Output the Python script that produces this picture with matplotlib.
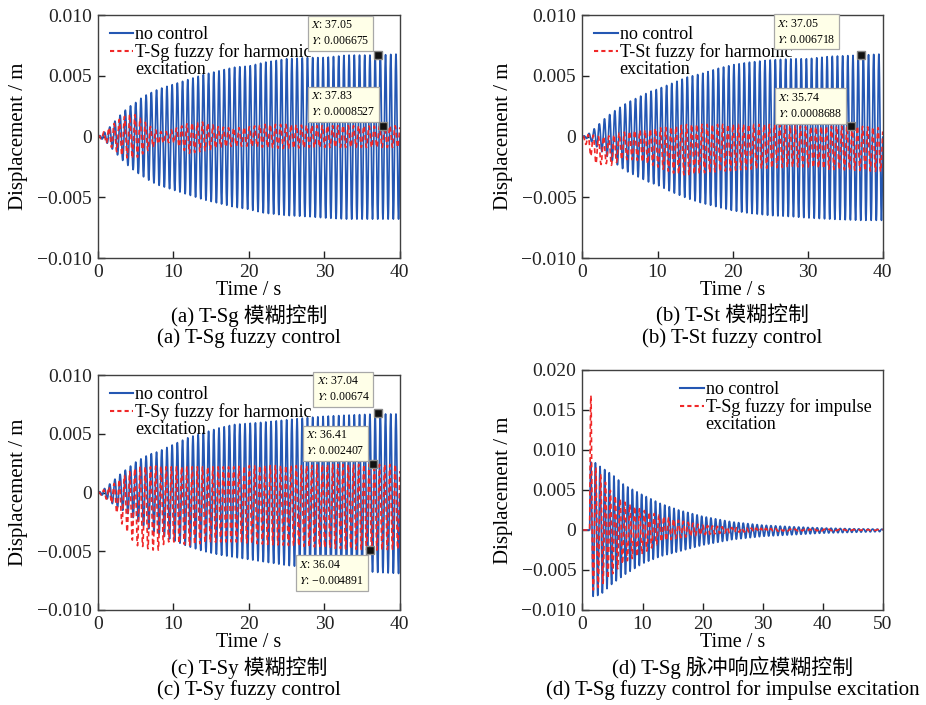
import numpy as np
import matplotlib
matplotlib.use('Agg')
import matplotlib.pyplot as plt
from matplotlib.lines import Line2D

plt.rcParams['font.family'] = ['Liberation Serif', 'Noto Sans CJK SC']
plt.rcParams['mathtext.fontset'] = 'stix'
plt.rcParams['axes.unicode_minus'] = True

# ---- data (displacement in units of 1e-3 m) ----
# harmonic excitation: envelope knots
t_harm = [0, 1, 2, 3, 4, 5, 6, 7, 8, 9, 10, 12, 14, 16, 18, 20, 22, 25, 28, 30, 33, 37, 40]
f_harm = 1.45  # Hz, counted cycles

a_blue_up = [0, 0.4, 1.1, 1.8, 2.4, 2.8, 3.3, 3.6, 3.9, 4.1, 4.3, 4.7, 5.1, 5.4, 5.7, 5.8, 6.1, 6.4, 6.5, 6.5, 6.7, 6.7, 6.8]
a_blue_lo = [0, -0.4, -1.1, -1.8, -2.4, -2.9, -3.3, -3.7, -4.0, -4.2, -4.4, -4.8, -5.2, -5.5, -5.8, -6.0, -6.3, -6.5, -6.6, -6.7, -6.8, -6.8, -6.8]
a_red_up = [0, 0.5, 1.0, 1.5, 1.8, 1.8, 1.3, 0.8, 0.4, 0.4, 0.6, 1.1, 1.2, 0.8, 0.7, 0.8, 1.0, 1.0, 0.9, 0.9, 0.9, 0.85, 0.9]
a_red_lo = [0, -0.5, -1.0, -1.5, -1.8, -1.8, -1.4, -1.0, -0.6, -0.5, -0.5, -1.4, -1.2, -0.9, -0.8, -0.8, -0.9, -1.0, -0.9, -0.9, -0.9, -0.9, -0.9]

b_blue_up = [0, 0.3, 0.9, 1.5, 2.0, 2.4, 2.8, 3.1, 3.4, 3.7, 3.9, 4.4, 4.9, 5.2, 5.6, 5.9, 6.1, 6.3, 6.4, 6.4, 6.6, 6.7, 6.8]
b_blue_lo = [0, -0.3, -0.9, -1.5, -2.0, -2.5, -2.9, -3.2, -3.5, -3.8, -4.0, -4.6, -5.1, -5.5, -5.8, -6.1, -6.3, -6.5, -6.6, -6.7, -6.8, -6.9, -6.9]
b_red_up = [0, 0.2, 0.0, 0.0, 0.1, 0.3, 0.4, 0.5, 0.5, 0.6, 0.7, 0.8, 1.0, 1.0, 1.0, 1.0, 1.0, 1.0, 0.9, 0.8, 0.85, 0.85, 0.7]
b_red_lo = [0, -1.5, -2.4, -2.2, -2.4, -1.9, -1.9, -1.9, -2.1, -2.3, -2.5, -3.0, -3.2, -3.0, -2.9, -2.8, -2.7, -2.6, -2.5, -2.5, -2.7, -2.8, -2.9]

c_blue_up = [0, 0.4, 1.0, 1.6, 2.1, 2.6, 3.0, 3.3, 3.5, 3.8, 4.1, 4.7, 5.1, 5.5, 5.8, 5.9, 6.0, 6.2, 6.4, 6.5, 6.6, 6.7, 6.7]
c_blue_lo = [0, -0.4, -1.0, -1.4, -1.8, -2.3, -2.8, -3.2, -3.5, -3.8, -4.1, -4.6, -5.0, -5.3, -5.5, -5.7, -5.9, -6.2, -6.4, -6.5, -6.6, -6.8, -6.9]
c_red_up = [0, 0.3, 0.7, 1.2, 1.7, 2.1, 2.2, 2.2, 2.3, 2.2, 2.2, 2.2, 2.2, 2.2, 2.2, 2.3, 2.3, 2.3, 2.3, 2.4, 2.4, 2.4, 2.4]
c_red_lo = [0, -0.5, -1.0, -2.5, -3.5, -4.5, -4.6, -4.9, -4.9, -4.2, -4.2, -4.5, -4.3, -4.2, -4.2, -4.3, -4.4, -4.5, -4.6, -4.7, -4.8, -4.9, -4.8]

# impulse excitation (starts at t = 1.2 s)
t_imp = [1.2, 1.45, 2, 3, 5, 7, 10, 13, 16, 20, 25, 30, 35, 40, 45, 50]
f_imp = 1.3
d_blue_up = [8.5, 8.5, 8.5, 7.9, 6.9, 5.6, 4.4, 3.3, 2.5, 1.7, 1.0, 0.6, 0.4, 0.25, 0.15, 0.1]
d_blue_lo = [-8.3, -8.3, -8.3, -8.1, -6.7, -5.6, -4.2, -3.3, -2.7, -1.9, -1.2, -0.8, -0.6, -0.4, -0.3, -0.2]
d_red_up = [16.8, 16.8, 8.0, 7.0, 4.5, 3.5, 2.5, 1.8, 1.2, 0.6, 0.3, 0.2, 0.1, 0.1, 0.05, 0.05]
d_red_lo = [-7.5, -7.5, -7.5, -7.0, -5.5, -4.0, -3.0, -1.5, -1.0, -0.6, -0.3, -0.2, -0.1, -0.1, -0.05, -0.05]

# data tips (x, y) as shown in the boxes
tips_a = [(37.05, 0.006675), (37.83, 0.0008527)]
tips_b = [(37.05, 0.006718), (35.74, 0.0008688)]
tips_c = [(37.04, 0.00674), (36.41, 0.002407), (36.04, -0.004891)]

yt_harm = [0.010, 0.005, 0, -0.005, -0.010]
yl_harm = ['0.010', '0.005', '0', '\u22120.005', '\u22120.010']
yt_imp = [0.020, 0.015, 0.010, 0.005, 0, -0.005, -0.010]
yl_imp = ['0.020', '0.015', '0.010', '0.005', '0', '\u22120.005', '\u22120.010']

captions = [
    ('(a) T-Sg 模糊控制', '(a) T-Sg fuzzy control'),
    ('(b) T-St 模糊控制', '(b) T-St fuzzy control'),
    ('(c) T-Sy 模糊控制', '(c) T-Sy fuzzy control'),
    ('(d) T-Sg 脉冲响应模糊控制', '(d) T-Sg fuzzy control for impulse excitation'),
]
red_labels = ['T-Sg fuzzy for harmonic', 'T-St fuzzy for harmonic',
              'T-Sy fuzzy for harmonic', 'T-Sg fuzzy for impulse']

BLUE = '#2457B3'
RED = '#F02828'


def harm_signal(t, knots, up, lo, f, phase=0.0):
    up_i = np.interp(t, knots, up) * 1e-3
    lo_i = np.interp(t, knots, lo) * 1e-3
    return (up_i + lo_i) / 2 + (up_i - lo_i) / 2 * np.sin(2 * np.pi * f * t + phase)


def imp_signal(t, knots, up, lo, f):
    tt = np.clip(t - knots[0], 0, None)
    up_i = np.interp(t, knots, up) * 1e-3
    lo_i = np.interp(t, knots, lo) * 1e-3
    s = np.sin(2 * np.pi * f * tt)
    y = np.where(s > 0, up_i * s, -lo_i * s)
    return np.where(t < knots[0], 0.0, y)


fig = plt.figure(figsize=(9.26, 7.05), dpi=100)
pos = [
    [0.1058, 0.634, 0.326, 0.3447],
    [0.629, 0.634, 0.3243, 0.3447],
    [0.1058, 0.1348, 0.326, 0.333],
    [0.629, 0.1348, 0.3243, 0.3404],
]
axes = [fig.add_axes(p) for p in pos]

th = np.linspace(0, 40, 6001)
ti = np.linspace(0, 50, 7001)

series = [
    (a_blue_up, a_blue_lo, a_red_up, a_red_lo),
    (b_blue_up, b_blue_lo, b_red_up, b_red_lo),
    (c_blue_up, c_blue_lo, c_red_up, c_red_lo),
]

for i, ax in enumerate(axes):
    if i < 3:
        bu, bl, ru, rl = series[i]
        yb = harm_signal(th, t_harm, bu, bl, f_harm)
        yr = harm_signal(th, t_harm, ru, rl, f_harm, phase=1.0)
        ax.plot(th, yb, color=BLUE, lw=1.2)
        ax.plot(th, yr, color=RED, lw=1.2, ls=(0, (3, 2)))
        ax.set_xlim(0, 40)
        ax.set_ylim(-0.010, 0.010)
        ax.set_xticks([0, 10, 20, 30, 40])
        ax.set_yticks(yt_harm)
        ax.set_yticklabels(yl_harm)
    else:
        yb = imp_signal(ti, t_imp, d_blue_up, d_blue_lo, f_imp)
        yr = imp_signal(ti, t_imp, d_red_up, d_red_lo, f_imp * 0.95)
        ax.plot(ti, yb, color=BLUE, lw=1.2)
        ax.plot(ti, yr, color=RED, lw=1.2, ls=(0, (3, 2)))
        ax.set_xlim(0, 50)
        ax.set_ylim(-0.010, 0.020)
        ax.set_xticks([0, 10, 20, 30, 40, 50])
        ax.set_yticks(yt_imp)
        ax.set_yticklabels(yl_imp)

    ax.tick_params(direction='in', length=5, width=1, labelsize=14, colors='#222222', pad=4.5)
    for sp in ax.spines.values():
        sp.set_color('#404040')
        sp.set_linewidth(1.0)
    ax.set_xlabel('Time / s', fontsize=14.5, labelpad=0)
    ax.set_ylabel('Displacement / m', fontsize=15)
    ax.yaxis.set_label_coords(-0.232, 0.5)

    handles = [Line2D([], [], color=BLUE, lw=1.5),
               Line2D([], [], color=RED, lw=1.5, ls=(0, (2, 1.5))),
               Line2D([], [], color='none')]
    labels = ['no control', red_labels[i], 'excitation']
    ax_h = pos[i][3] * 705
    ax_w = pos[i][2] * 926
    x0 = 12 / ax_w if i < 3 else 98 / ax_w
    ax.legend(handles, labels, loc='upper left', bbox_to_anchor=(x0, 1 - 11 / ax_h),
              frameon=False, fontsize=13, handlelength=1.3, handletextpad=0.1,
              labelspacing=0.0, borderaxespad=0.0, borderpad=0.0)

    cx = pos[i][0] + pos[i][2] / 2
    ybase = pos[i][1]
    fig.text(cx, ybase - 0.082, captions[i][0], ha='center', va='center', fontsize=15)
    fig.text(cx, ybase - 0.114, captions[i][1], ha='center', va='center', fontsize=15)

# data tips
tip_sets = [
    (axes[0], tips_a, [(-8, 8, 'bottom'), (-8, 8, 'bottom')]),
    (axes[1], tips_b, [(-25, 9, 'bottom'), (-8, 6, 'bottom')]),
    (axes[2], tips_c, [(-8, 10, 'bottom'), (-8, 7, 'bottom'), (-6, -9, 'top')]),
]
for ax, tips, offs in tip_sets:
    for (x, y), (dx, dy, va) in zip(tips, offs):
        ys = f'{y:.7g}'.replace('-', '\u2212')
        txt = f'$X$: {x:.4g}\n$Y$: {ys}'
        ax.annotate(txt, xy=(x, y), xytext=(dx, dy), textcoords='offset pixels',
                    ha='right', va=va, multialignment='left', fontsize=8.5, linespacing=1.45,
                    bbox=dict(boxstyle='square,pad=0.3', fc='#FFFFE8', ec='#A8A8A8', lw=0.9),
                    zorder=6)
        ax.plot(x, y, 's', color='#111111', mec='#888888', mew=1.0, ms=6, zorder=7)

fig.savefig('out.png', dpi=100)
